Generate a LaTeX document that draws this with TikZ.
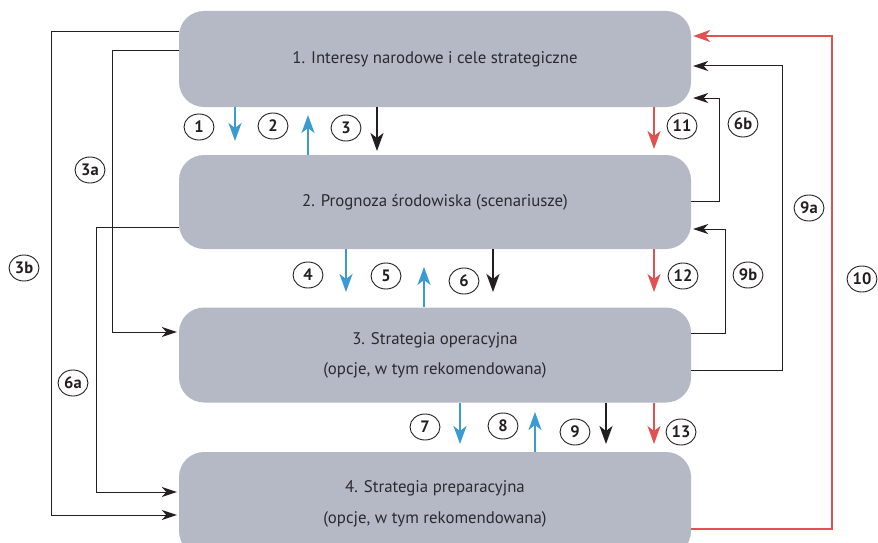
\documentclass[tikz,border=0pt]{standalone}
\usepackage{fontspec}
\setmainfont{PT Sans}
\usetikzlibrary{arrows.meta,shapes.geometric}
\definecolor{boxgray}{HTML}{B5B9C6}
\definecolor{txtgray}{HTML}{2A2A2F}
\definecolor{arblue}{HTML}{3A9BD3}
\definecolor{arred}{HTML}{E0524F}
\definecolor{arblack}{HTML}{231F20}
\begin{document}
\begin{tikzpicture}[x=1pt,y=-1pt,
  box/.style={draw=none, fill=boxgray, rounded corners=25pt, minimum width=512pt,
    inner sep=0pt, font=\fontsize{16.8}{31}\selectfont, text=txtgray, align=center},
  num/.style={ellipse, draw=arblack, line width=0.9pt, minimum width=30pt,
    minimum height=26pt, inner sep=0pt, font=\fontsize{16.5}{16.5}\selectfont\bfseries, text=arblack},
  bigtip/.style={-{Stealth[length=18pt,width=13pt,inset=5pt]}},
  bluearr/.style={bigtip, draw=arblue, fill=arblue, line width=2pt},
  redarr/.style={bigtip, draw=arred, fill=arred, line width=2pt},
  blackarr/.style={bigtip, draw=arblack, fill=arblack, line width=2pt},
  thinarr/.style={draw=arblack, line width=1pt, -{Stealth[length=15pt,width=10pt,inset=4.5pt]}},
  backarr/.style={draw=arred, line width=2.2pt, -{Stealth[length=17pt,width=12pt,inset=5pt]}}
]
\useasboundingbox (0,0) rectangle (878,543);

% boxes
\node[box, minimum height=96pt] (b1) at (435,59) {1. Interesy narodowe i cele strategiczne};
\node[box, minimum height=94pt] (b2) at (435,202) {2. Prognoza środowiska (scenariusze)};
\node[box, minimum height=95pt] (b3) at (435,355) {3. Strategia operacyjna\\[-1pt](opcje, w tym rekomendowana)};
\node[box, minimum height=104pt] (b4) at (435,504) {4. Strategia preparacyjna\\(opcje, w tym rekomendowana)};

% arrows between boxes 1 and 2
\coordinate (t1) at (235,141);  \draw[bluearr]  (b1.south -| t1) -- (t1);
\coordinate (t2) at (308,115);  \draw[bluearr]  (b2.north -| t2) -- (t2);
\coordinate (t3) at (377,151);  \draw[blackarr] (b1.south -| t3) -- (t3);
\coordinate (t11) at (654,149); \draw[redarr]   (b1.south -| t11) -- (t11);
% between 2 and 3
\coordinate (t4) at (346,292);  \draw[bluearr]  (b2.south -| t4) -- (t4);
\coordinate (t5) at (424,267);  \draw[bluearr]  (b3.north -| t5) -- (t5);
\coordinate (t6) at (493,292);  \draw[blackarr] (b2.south -| t6) -- (t6);
\coordinate (t12) at (654,292); \draw[redarr]   (b2.south -| t12) -- (t12);
% between 3 and 4
\coordinate (t7) at (460,444);  \draw[bluearr]  (b3.south -| t7) -- (t7);
\coordinate (t8) at (535,412);  \draw[bluearr]  (b4.north -| t8) -- (t8);
\coordinate (t9) at (606,444);  \draw[blackarr] (b3.south -| t9) -- (t9);
\coordinate (t13) at (654,444); \draw[redarr]   (b3.south -| t13) -- (t13);

% left connectors
\coordinate (k3bt) at (51,31.7);  \coordinate (k3bb) at (51,515);
\draw[thinarr] (b1.west |- k3bt) -- (k3bt) -- (k3bb) -- ([xshift=-2pt]b4.west |- k3bb);
\coordinate (k3at) at (112,51);   \coordinate (k3ab) at (112,332);
\draw[thinarr] (b1.west |- k3at) -- (k3at) -- (k3ab) -- ([xshift=-2pt]b3.west |- k3ab);
\coordinate (k6at) at (96,227);   \coordinate (k6ab) at (96,492);
\draw[thinarr] (b2.west |- k6at) -- (k6at) -- (k6ab) -- ([xshift=-2pt]b4.west |- k6ab);

% right connectors
\coordinate (k6bb) at (719,201);  \coordinate (k6bt) at (719,98);
\draw[thinarr] (b2.east |- k6bb) -- (k6bb) -- (k6bt) -- ([xshift=2pt]b1.east |- k6bt);
\coordinate (k9bb) at (725,333);  \coordinate (k9bt) at (725,229);
\draw[thinarr] (b3.east |- k9bb) -- (k9bb) -- (k9bt) -- ([xshift=2pt]b2.east |- k9bt);
\coordinate (k9ab) at (782,370);  \coordinate (k9at) at (782,66);
\draw[thinarr] (b3.east |- k9ab) -- (k9ab) -- (k9at) -- ([xshift=2pt]b1.east |- k9at);
\coordinate (k10b) at (832,529);  \coordinate (k10t) at (832,36);
\draw[backarr] (b4.east |- k10b) -- (k10b) -- (k10t) -- ([xshift=2pt]b1.east |- k10t);

% number labels
\node[num] (c1) at (199,127) {1};
\node[num] (c2) at (273,126) {2};
\node[num] (c3) at (346,128) {3};
\node[num] (c11) at (682,126) {11};
\node[num] (c4) at (308,275) {4};
\node[num] (c5) at (386,276) {5};
\node[num] (c6) at (464,281) {6};
\node[num] (c12) at (683,276) {12};
\node[num] (c7) at (425,427) {7};
\node[num] (c8) at (503,426) {8};
\node[num] (c9) at (575,432) {9};
\node[num] (c13) at (681,432) {13};
\node[num] (c3a) at (90,170) {3a};
\node[num] (c3b) at (24,268) {3b};
\node[num] (c6a) at (73,383) {6a};
\node[num] (c6b) at (743,124) {6b};
\node[num] (c9a) at (809,208) {9a};
\node[num] (c9b) at (748,275) {9b};
\node[num] (c10) at (862,279) {10};
\end{tikzpicture}
\end{document}
